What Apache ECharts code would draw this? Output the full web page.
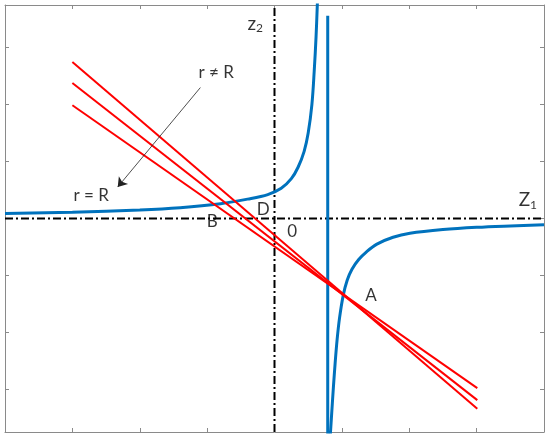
<!DOCTYPE html>
<html><head><meta charset="utf-8">
<script src="https://cdn.jsdelivr.net/npm/echarts@6/dist/echarts.min.js"></script>
<style>html,body{margin:0;padding:0;background:#fff}#c{width:550px;height:437px}</style>
</head><body><div id="c"></div>
<script>
// axis ranges and ticks
const xRange = [-4, 4];
const yRange = [-3.75, 3.75];
const yTickValues = [-3, -2, -1, 0, 1, 2, 3];

// blue curve (two branches)
const leftBranch = [[-4.0,0.09],[-3.0,0.11],[-2.0,0.15],[-1.4,0.19],[-0.8,0.26],[-0.4,0.34],[-0.1,0.42],[0.1,0.53],[0.25,0.70],[0.35,0.90],[0.44,1.18],[0.50,1.50],[0.555,2.0],[0.59,2.6],[0.617,3.2],[0.637,3.8]];
const rightBranch = [[0.826,-3.85],[0.85,-3.4],[0.875,-2.95],[0.90,-2.54],[0.93,-2.12],[0.965,-1.75],[1.02,-1.35],[1.08,-1.08],[1.15,-0.89],[1.25,-0.72],[1.37,-0.58],[1.52,-0.45],[1.76,-0.33],[2.01,-0.26],[2.5,-0.195],[3.0,-0.155],[3.5,-0.13],[4.0,-0.11]];
const poleLine = [[0.79,3.56],[0.79,-3.85]];

// red lines
const redLine1 = [[-3.0,2.75],[3.01,-3.34]];
const redLine2 = [[-3.0,2.38],[3.01,-3.19]];
const redLine3 = [[-3.0,1.99],[3.01,-2.98]];

// dash-dot coordinate axes
const axisZ1 = [[-4,0],[4,0]];
const axisZ2 = [[0,-3.75],[0,3.75]];

// arrow
const arrowFrom = [-1.10, 2.30];
const arrowTo = [-2.327, 0.553];

// annotation labels
const annText = ['{m|z}{s|2}', '{m|Z}{s|1}', 'r ≠ R', 'r = R', 'D', 'B', '0', 'A'];
const annX = [-0.285, 3.76, -0.865, -2.72, -0.167, -0.923, 0.263, 1.434];
const annY = [3.42, 0.32, 2.565, 0.41, 0.16, -0.05, -0.225, -1.35];

const FONT = 'Lato, "Open Sans", sans-serif';
const chart = echarts.init(document.getElementById('c'), null, {renderer: 'canvas'});

function mkX(pos) {
  return {type: 'value', position: pos, min: xRange[0], max: xRange[1], interval: 1,
    axisLine: {show: true, onZero: false, lineStyle: {color: '#8a8a8a', width: 1}},
    axisTick: {show: true, inside: true, length: 4, lineStyle: {color: '#8a8a8a'}},
    axisLabel: {show: false}, splitLine: {show: false}};
}
function mkY(pos) {
  return {type: 'value', position: pos, min: yRange[0], max: yRange[1],
    axisLine: {show: true, onZero: false, lineStyle: {color: '#8a8a8a', width: 1}},
    axisTick: {show: true, inside: true, length: 4, customValues: yTickValues, lineStyle: {color: '#8a8a8a'}},
    axisLabel: {show: false}, splitLine: {show: false}};
}
function line(data, color, width, type, z) {
  return {type: 'line', data: data, showSymbol: false, symbol: 'none', silent: true, z: z || 2,
    lineStyle: {color: color, width: width, type: type || 'solid'}};
}

const blue = '#0072BD';
const option = {
  animation: false,
  backgroundColor: '#fff',
  grid: {left: 5, right: 6, top: 5, bottom: 5},
  xAxis: [mkX('bottom'), mkX('top')],
  yAxis: [mkY('left'), mkY('right')],
  series: [
    line(axisZ1, '#000', 2, [8, 3, 2, 3], 1),
    line(axisZ2, '#000', 2, [8, 3, 2, 3], 1),
    Object.assign(line(leftBranch, blue, 3), {smooth: 0.35}),
    Object.assign(line(rightBranch, blue, 3), {smooth: 0.35}),
    line(poleLine, blue, 3),
    line(redLine1, '#FF0000', 2, 'solid', 3),
    line(redLine2, '#FF0000', 2, 'solid', 3),
    line(redLine3, '#FF0000', 2, 'solid', 3),
    {type: 'lines', coordinateSystem: 'cartesian2d', silent: true, z: 4,
      symbol: ['none', 'arrow'], symbolSize: 9,
      lineStyle: {color: '#222', width: 0.8, opacity: 1},
      data: [{coords: [arrowFrom, arrowTo]}]},
    {type: 'scatter', symbolSize: 0, silent: true, z: 5,
      data: annText.map((t, i) => ({name: t, value: [annX[i], annY[i]]})),
      label: {show: true, position: 'inside', formatter: p => p.name,
        color: '#000', fontFamily: FONT, fontSize: 17,
        rich: {
          m: {fontSize: 19, fontFamily: FONT, color: '#000'},
          s: {fontSize: 12, fontFamily: FONT, color: '#000', padding: [9, 0, 0, 0]}
        }}}
  ]
};
chart.setOption(option);
</script>
</body></html>
